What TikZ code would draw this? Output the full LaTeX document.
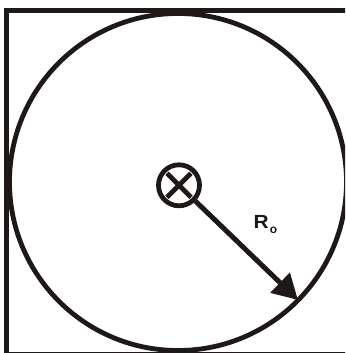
\documentclass[tikz,border=0pt]{standalone}
\usepackage{fontspec}
\setmainfont{Liberation Sans}
\usetikzlibrary{arrows.meta}
\definecolor{ink}{RGB}{30,24,23}
\begin{document}
\begin{tikzpicture}[x=1pt,y=-1pt,
  frame/.style={draw=ink, line width=4.6pt},
  ring/.style={draw=ink, line width=4.8pt, circle, inner sep=0pt},
  crossline/.style={draw=ink, line width=4.8pt},
  radius arrow/.style={draw=ink, line width=5pt, -{Triangle[length=25pt,width=27pt]}},
  lbl/.style={inner sep=0pt, text=ink, font=\bfseries}]
\useasboundingbox (0,0) rectangle (345,353);
\clip (0,0) rectangle (345,353);
% square frame (partly outside the picture)
\draw[frame] (6.5,10.5) rectangle (350,354.4);
% large circle
\node[ring, minimum size=337pt] (outer) at (178,182) {};
% centre marker
\node[ring, minimum size=41pt] (hub) at (179,185.3) {};
\draw[crossline] ([shift={(-12,-12)}]hub.center) -- ([shift={(12,12)}]hub.center);
\draw[crossline] ([shift={(12,-12)}]hub.center) -- ([shift={(-12,12)}]hub.center);
% radius arrow
\coordinate (tip) at (298,300);
\draw[radius arrow] (hub) -- (tip);
% label
\node[lbl, anchor=base west] (rlabel) at (253.5,228)
  {\fontsize{19}{22}\selectfont\scalebox{1.1}[1]{R}\hspace{1pt}\raisebox{-5.5pt}{\fontsize{12}{13}\selectfont o}};
\end{tikzpicture}
\end{document}
